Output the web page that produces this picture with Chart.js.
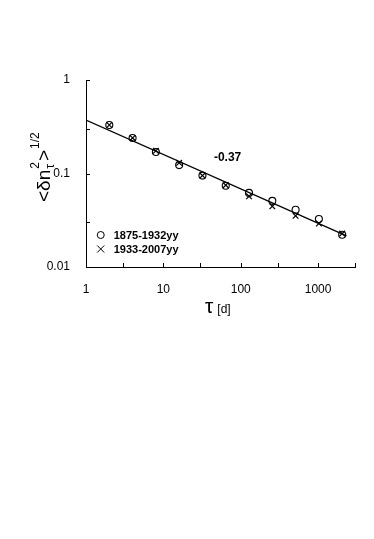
<!DOCTYPE html>
<html><head><meta charset="utf-8">
<script src="https://cdn.jsdelivr.net/npm/chart.js@4/dist/chart.umd.min.js"></script>
<style>html,body{margin:0;padding:0;background:#fff}canvas{display:block}</style>
</head><body>
<canvas id="c" width="374" height="539"></canvas>
<script>
const tau = [2,4,8,16,32,64,128,256,512,1024,2048];
const series1875 = [0.33,0.24,0.17,0.123,0.095,0.074,0.062,0.051,0.041,0.0326,0.0221];
const series1933 = [0.33,0.24,0.175,0.130,0.095,0.075,0.057,0.0446,0.0353,0.0292,0.0228];
const fitX = [1, 2330];
const fitY = [0.372, 0.0215];
const xTickValues = [1,3,10,30,100,300,1000,3000];
const xTickLabels = {1:'1',10:'10',100:'100',1000:'1000'};
const yTickValues = [0.01,0.03,0.1,0.3,1];
const yTickLabels = {0.01:'0.01',0.1:'0.1',1:'1'};
const legendLabels = ['1875-1932yy','1933-2007yy'];
const slopeLabel = '-0.37';

const FONT = '"Liberation Sans", Arial, Helvetica, sans-serif';

const decor = {
  id:'decor',
  afterDraw(chart){
    const ctx = chart.ctx, xs = chart.scales.x, ys = chart.scales.y;
    const a = chart.chartArea;
    ctx.save();
    ctx.strokeStyle = '#000'; ctx.lineWidth = 1;
    // inward ticks
    xTickValues.forEach(v=>{
      const px = Math.round(xs.getPixelForValue(v))+0.5;
      ctx.beginPath(); ctx.moveTo(px, a.bottom); ctx.lineTo(px, a.bottom-4); ctx.stroke();
    });
    yTickValues.forEach(v=>{
      const py = Math.round(ys.getPixelForValue(v))+0.5;
      ctx.beginPath(); ctx.moveTo(a.left, py); ctx.lineTo(a.left+4, py); ctx.stroke();
    });
    ctx.fillStyle = '#000';
    // slope label
    ctx.font = 'bold 12px '+FONT;
    ctx.textBaseline = 'middle'; ctx.textAlign = 'left';
    ctx.fillText(slopeLabel, xs.getPixelForValue(45), ys.getPixelForValue(0.148));
    // legend
    const lx = xs.getPixelForValue(1.55);
    const l1 = 235, l2 = 249;
    ctx.lineWidth = 1;
    ctx.beginPath(); ctx.arc(lx, l1, 3.5, 0, Math.PI*2); ctx.stroke();
    ctx.beginPath(); ctx.moveTo(lx-3.5,l2-3.5); ctx.lineTo(lx+3.5,l2+3.5);
    ctx.moveTo(lx+3.5,l2-3.5); ctx.lineTo(lx-3.5,l2+3.5); ctx.stroke();
    ctx.font = 'bold 11px '+FONT;
    ctx.fillText(legendLabels[0], lx+13, l1+0.5);
    ctx.fillText(legendLabels[1], lx+13, l2+0.5);
    // x title
    ctx.textBaseline = 'alphabetic';
    ctx.font = '21px '+FONT;
    ctx.fillText('\u03C4', 205, 313);
    const tw = ctx.measureText('\u03C4').width;
    ctx.font = '12px '+FONT;
    ctx.fillText('[d]', 205+tw+4, 313);
    // y title (rotated)
    ctx.translate(50, 202);
    ctx.rotate(-Math.PI/2);
    let x = 0;
    ctx.font = '19px '+FONT;
    ctx.fillText('<\u03B4n', x, 0); x += ctx.measureText('<\u03B4n').width;
    ctx.font = '12px '+FONT;
    ctx.fillText('\u03C4', x+1, 4);
    ctx.fillText('2', x+1, -11);
    x += ctx.measureText('2').width + 2;
    ctx.font = '19px '+FONT;
    ctx.fillText('>', x, 0); x += ctx.measureText('>').width + 1;
    ctx.font = '12px '+FONT;
    ctx.fillText('1/2', x, -11);
    ctx.restore();
  }
};

new Chart(document.getElementById('c'), {
  type:'scatter',
  data:{
    datasets:[
      {label:legendLabels[0], data:tau.map((t,i)=>({x:t,y:series1875[i]})), pointStyle:'circle', radius:3.5, borderColor:'#000', backgroundColor:'rgba(0,0,0,0)', borderWidth:1.1, order:2},
      {label:legendLabels[1], data:tau.map((t,i)=>({x:t,y:series1933[i]})), pointStyle:'crossRot', radius:4, borderColor:'#000', borderWidth:1.2, order:3},
      {type:'line', label:'fit', data:fitX.map((t,i)=>({x:t,y:fitY[i]})), borderColor:'#000', borderWidth:1.2, pointRadius:0, showLine:true, fill:false, order:1}
    ]
  },
  options:{
    responsive:false, animation:false,
    layout:{padding:{left:0, top:80, right:19, bottom:242}},
    plugins:{legend:{display:false}, tooltip:{enabled:false}},
    scales:{
      x:{type:'logarithmic', min:1, max:3000,
        afterFit(s){s.height=30;},
        afterBuildTicks(s){s.ticks = xTickValues.map(v=>({value:v}));},
        grid:{display:false},
        border:{display:true,color:'#000',width:1},
        ticks:{autoSkip:false, maxRotation:0, padding:7, color:'#000', font:{family:FONT,size:12},
          callback:(v)=>xTickLabels[v]||''}
      },
      y:{type:'logarithmic', min:0.01, max:1,
        afterFit(s){s.width=86;},
        afterBuildTicks(s){s.ticks = yTickValues.map(v=>({value:v}));},
        grid:{display:false},
        border:{display:true,color:'#000',width:1},
        ticks:{autoSkip:false, padding:8, color:'#000', font:{family:FONT,size:12},
          callback:(v)=>yTickLabels[v]||''}
      }
    }
  },
  plugins:[decor]
});
</script>
</body></html>
